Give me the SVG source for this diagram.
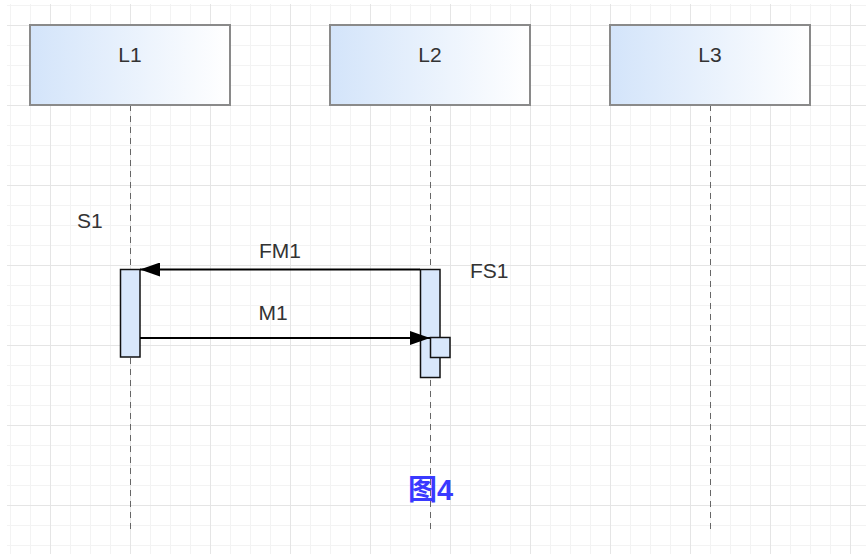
<svg xmlns="http://www.w3.org/2000/svg" width="866" height="554" viewBox="0 0 866 554">
<defs>
<pattern id="minor" patternUnits="userSpaceOnUse" x="10" y="5" width="20" height="20">
<path d="M0.5 0V20M0 0.5H20" stroke="#f3f3f3" stroke-width="1" fill="none"/>
</pattern>
<pattern id="major" patternUnits="userSpaceOnUse" x="50" y="25" width="80" height="80">
<path d="M0.5 0V80M0 0.5H80" stroke="#e5e5e5" stroke-width="1" fill="none"/>
</pattern>
<linearGradient id="hd" x1="0" y1="0" x2="1" y2="0">
<stop offset="0" stop-color="#d3e4fa"/>
<stop offset="1" stop-color="#ffffff"/>
</linearGradient>
<marker id="ah" viewBox="0 0 20 14" refX="20" refY="7" markerWidth="20" markerHeight="14" markerUnits="userSpaceOnUse" orient="auto">
<path d="M0 0L20 7L0 14Z" fill="#000"/>
</marker>
<style>
.head{fill:url(#hd);stroke:#8a8a8a;stroke-width:2}
.life{stroke:#666;stroke-width:1;stroke-dasharray:6 5;fill:none}
.act{fill:#d8e7fb;stroke:#111;stroke-width:1.5}
.lbl{font-family:"Liberation Sans",Arial,sans-serif;font-size:21px;fill:#333}
.msg{stroke:#000;stroke-width:1.8;fill:none;marker-end:url(#ah)}
</style>
</defs>
<rect x="0" y="0" width="866" height="554" fill="#fff"/>
<rect x="7" y="4" width="859" height="550" fill="url(#minor)"/>
<rect x="7" y="4" width="859" height="550" fill="url(#major)"/>

<g id="L1">
<line class="life" x1="130.5" y1="105" x2="130.5" y2="533"/>
<rect class="head" x="30" y="25" width="200" height="80"/>
<text class="lbl" x="130" y="62" text-anchor="middle">L1</text>
</g>
<g id="L2">
<line class="life" x1="430.5" y1="105" x2="430.5" y2="533"/>
<rect class="head" x="330" y="25" width="200" height="80"/>
<text class="lbl" x="430" y="62" text-anchor="middle">L2</text>
</g>
<g id="L3">
<line class="life" x1="710.5" y1="105" x2="710.5" y2="533"/>
<rect class="head" x="610" y="25" width="200" height="80"/>
<text class="lbl" x="710" y="62" text-anchor="middle">L3</text>
</g>

<g id="S1">
<rect class="act" x="120.5" y="269.5" width="19.5" height="87.5"/>
<text class="lbl" x="77" y="228">S1</text>
</g>
<g id="FS1">
<rect class="act" x="420.5" y="269.5" width="19.5" height="108"/>
<rect class="act" x="430.5" y="337.5" width="19.5" height="20"/>
<text class="lbl" x="470" y="278">FS1</text>
</g>

<g id="connectors">
<line class="msg" x1="420" y1="269.5" x2="140" y2="269.5"/>
<text class="lbl" x="280" y="258" text-anchor="middle">FM1</text>
<line class="msg" x1="140" y1="338" x2="430" y2="338"/>
<text class="lbl" x="273" y="320" text-anchor="middle">M1</text>
</g>

<text x="408" y="500" font-family="'Liberation Sans','Noto Sans CJK SC',sans-serif" font-size="29" font-weight="bold" fill="#3a3aff">图4</text>
</svg>
